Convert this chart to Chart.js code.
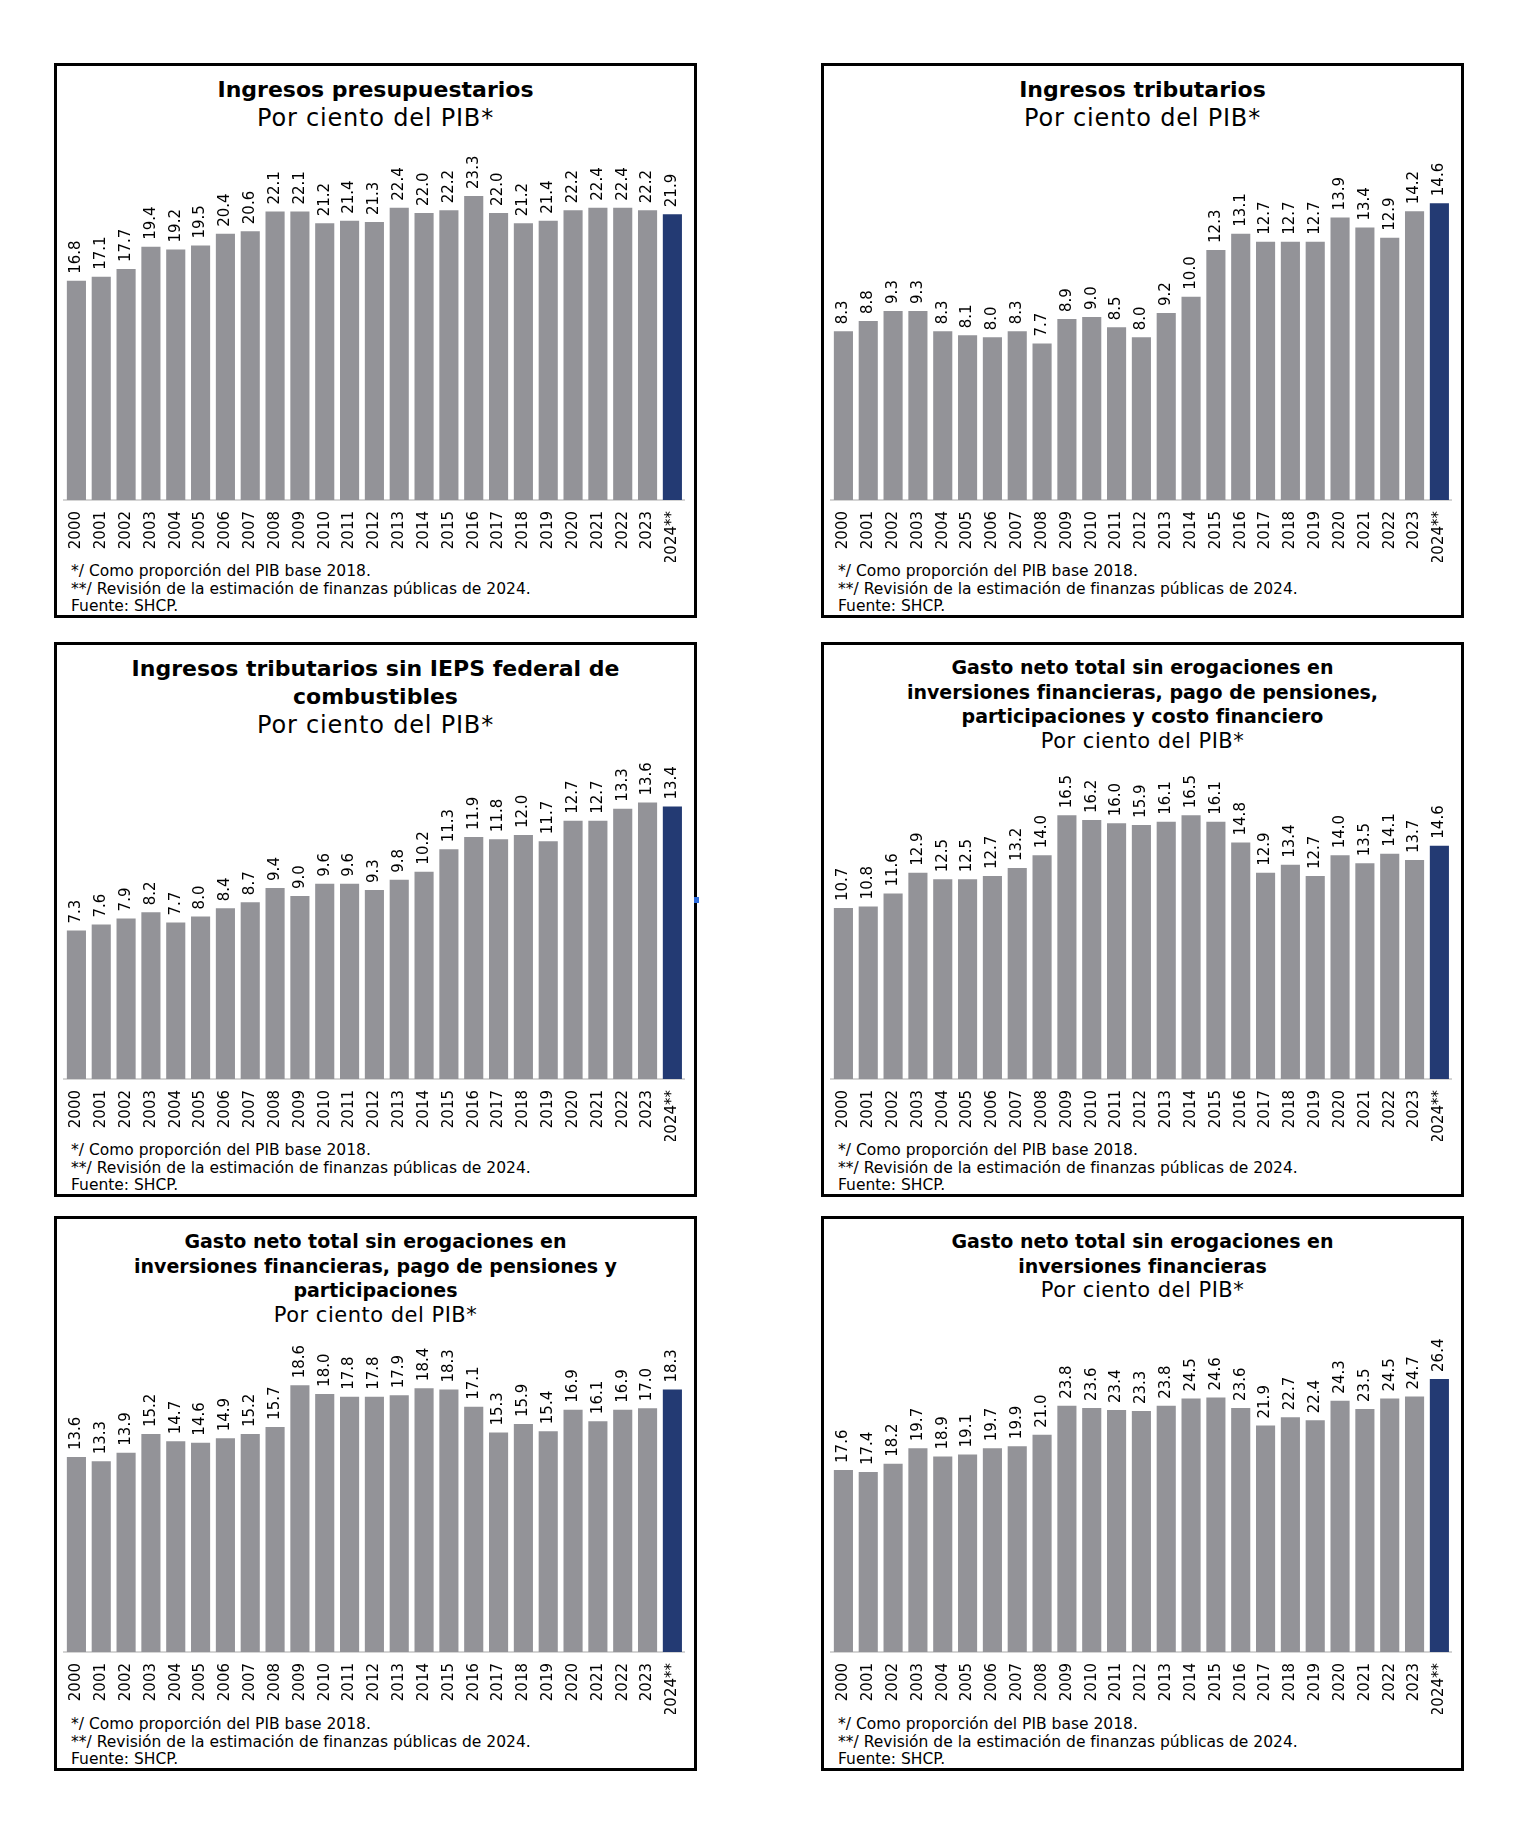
<!DOCTYPE html>
<html lang="es">
<head>
<meta charset="utf-8">
<title>Finanzas públicas - Por ciento del PIB</title>
<script src="https://cdn.jsdelivr.net/npm/chart.js@4.4.1/dist/chart.umd.min.js"></script>
<style>
    body {
        margin: 0;
        background: #ffffff;
        width: 1520px;
        height: 1822px;
        position: relative;
        font-family: "DejaVu Sans", sans-serif;
        color: #000;
    }
    .panel {
        position: absolute;
        width: 643px;
        border: 3px solid #000;
        box-sizing: border-box;
        background: #fff;
    }
    .titulo {
        position: absolute;
        left: 0;
        right: 0;
        top: 10px;
        text-align: center;
        white-space: nowrap;
    }
    .titulo .t { font-weight: bold; }
    .grande { font-size: 22px; line-height: 28px; }
    .grande .s { font-size: 24px; letter-spacing: 0.8px; }
    .chico { font-size: 19px; line-height: 24.7px; }
    .chico .s { font-size: 21px; letter-spacing: 0.5px; }
    .notas {
        position: absolute;
        left: 14px;
        top: 497px;
        font-size: 15.5px;
        line-height: 17.5px;
        white-space: nowrap;
    }
    .panel canvas {
        position: absolute;
        left: 0;
    }
    .marca {
        position: absolute;
        left: 694px;
        top: 897px;
        width: 5px;
        height: 6px;
        background: #2f6fe0;
    }
</style>
</head>
<body>

<script>
// ============================================
// DATOS (por ciento del PIB)
// ============================================

const anios = ['2000', '2001', '2002', '2003', '2004', '2005', '2006', '2007', '2008', '2009',
    '2010', '2011', '2012', '2013', '2014', '2015', '2016', '2017', '2018', '2019',
    '2020', '2021', '2022', '2023', '2024**'];

const ingresosPresupuestarios = [16.8, 17.1, 17.7, 19.4, 19.2, 19.5, 20.4, 20.6, 22.1, 22.1,
    21.2, 21.4, 21.3, 22.4, 22.0, 22.2, 23.3, 22.0, 21.2, 21.4, 22.2, 22.4, 22.4, 22.2, 21.9];

const ingresosTributarios = [8.3, 8.8, 9.3, 9.3, 8.3, 8.1, 8.0, 8.3, 7.7, 8.9,
    9.0, 8.5, 8.0, 9.2, 10.0, 12.3, 13.1, 12.7, 12.7, 12.7, 13.9, 13.4, 12.9, 14.2, 14.6];

const tributariosSinIeps = [7.3, 7.6, 7.9, 8.2, 7.7, 8.0, 8.4, 8.7, 9.4, 9.0,
    9.6, 9.6, 9.3, 9.8, 10.2, 11.3, 11.9, 11.8, 12.0, 11.7, 12.7, 12.7, 13.3, 13.6, 13.4];

const gastoSinCostoFinanciero = [10.7, 10.8, 11.6, 12.9, 12.5, 12.5, 12.7, 13.2, 14.0, 16.5,
    16.2, 16.0, 15.9, 16.1, 16.5, 16.1, 14.8, 12.9, 13.4, 12.7, 14.0, 13.5, 14.1, 13.7, 14.6];

const gastoSinParticipaciones = [13.6, 13.3, 13.9, 15.2, 14.7, 14.6, 14.9, 15.2, 15.7, 18.6,
    18.0, 17.8, 17.8, 17.9, 18.4, 18.3, 17.1, 15.3, 15.9, 15.4, 16.9, 16.1, 16.9, 17.0, 18.3];

const gastoSinInversiones = [17.6, 17.4, 18.2, 19.7, 18.9, 19.1, 19.7, 19.9, 21.0, 23.8,
    23.6, 23.4, 23.3, 23.8, 24.5, 24.6, 23.6, 21.9, 22.7, 22.4, 24.3, 23.5, 24.5, 24.7, 26.4];

const subtitulo = 'Por ciento del PIB*';
const notas = [
    '*/ Como proporción del PIB base 2018.',
    '**/ Revisión de la estimación de finanzas públicas de 2024.',
    'Fuente: SHCP.'
];

// ============================================
// COLORES Y DISPOSICIÓN
// ============================================

const GRIS = '#939398';
const AZUL = '#233a73';

// x, y: esquina del recuadro; base: píxel del eje; ppu: píxeles por punto del PIB
const paneles = [
    { x: 54, y: 63, alto: 555, estilo: 'grande', base: 500, ppu: 13.05,
      titulo: ['Ingresos presupuestarios'], valores: ingresosPresupuestarios },
    { x: 821, y: 63, alto: 555, estilo: 'grande', base: 500, ppu: 20.33,
      titulo: ['Ingresos tributarios'], valores: ingresosTributarios },
    { x: 54, y: 642, alto: 555, estilo: 'grande', base: 1078.5, ppu: 20.3,
      titulo: ['Ingresos tributarios sin IEPS federal de', 'combustibles'], valores: tributariosSinIeps },
    { x: 821, y: 642, alto: 555, estilo: 'chico', base: 1078.5, ppu: 15.96,
      titulo: ['Gasto neto total sin erogaciones en', 'inversiones financieras, pago de pensiones,', 'participaciones y costo financiero'],
      valores: gastoSinCostoFinanciero },
    { x: 54, y: 1216, alto: 555, estilo: 'chico', base: 1651.5, ppu: 14.32,
      titulo: ['Gasto neto total sin erogaciones en', 'inversiones financieras, pago de pensiones y', 'participaciones'],
      valores: gastoSinParticipaciones },
    { x: 821, y: 1216, alto: 555, estilo: 'chico', base: 1651.5, ppu: 10.33,
      titulo: ['Gasto neto total sin erogaciones en', 'inversiones financieras'], valores: gastoSinInversiones }
];

/**
 * Etiquetas verticales con el valor encima de cada barra
 */
const etiquetasValores = {
    id: 'etiquetasValores',
    afterDatasetsDraw(chart) {
        const ctx = chart.ctx;
        const valores = chart.data.datasets[0].data;
        ctx.save();
        ctx.font = '15px "DejaVu Sans"';
        ctx.fillStyle = '#000';
        ctx.textAlign = 'left';
        ctx.textBaseline = 'middle';
        chart.getDatasetMeta(0).data.forEach((barra, i) => {
            ctx.save();
            ctx.translate(barra.x, barra.y - 7);
            ctx.rotate(-Math.PI / 2);
            ctx.fillText(valores[i].toFixed(1), 0, 0);
            ctx.restore();
        });
        ctx.restore();
    }
};

/**
 * Crear un recuadro con su título, gráfico y notas
 */
function crearPanel(p) {
    const div = document.createElement('div');
    div.className = 'panel';
    div.style.left = p.x + 'px';
    div.style.top = p.y + 'px';
    div.style.height = p.alto + 'px';

    const titulo = document.createElement('div');
    titulo.className = 'titulo ' + p.estilo;
    titulo.innerHTML = p.titulo.map(l => `<div class="t">${l}</div>`).join('') +
        `<div class="s">${subtitulo}</div>`;
    div.appendChild(titulo);

    // Lienzo: desde 60 px bajo el borde superior hasta el final de los años
    const arriba = p.y + 60;
    const alto = Math.round(p.base + 62 - arriba);
    const ancho = 637;
    const canvas = document.createElement('canvas');
    canvas.width = ancho;
    canvas.height = alto;
    canvas.style.top = (arriba - p.y - 3) + 'px';
    canvas.style.width = ancho + 'px';
    canvas.style.height = alto + 'px';
    div.appendChild(canvas);

    const nota = document.createElement('div');
    nota.className = 'notas';
    nota.innerHTML = notas.map(n => `<div>${n}</div>`).join('');
    div.appendChild(nota);

    document.body.appendChild(div);

    const yMax = (p.base - arriba) / p.ppu;

    new Chart(canvas.getContext('2d'), {
        type: 'bar',
        data: {
            labels: anios,
            datasets: [{
                data: p.valores,
                backgroundColor: p.valores.map((v, i) => i === p.valores.length - 1 ? AZUL : GRIS),
                borderWidth: 0,
                barPercentage: 0.77,
                categoryPercentage: 1
            }]
        },
        options: {
            responsive: false,
            animation: false,
            devicePixelRatio: 1,
            layout: {
                padding: { left: 7, right: 9.2, top: 0, bottom: 0 }
            },
            plugins: {
                legend: { display: false },
                tooltip: { enabled: false }
            },
            scales: {
                x: {
                    grid: { display: false, drawTicks: false },
                    border: { display: true, color: '#d4d4d4', width: 2 },
                    ticks: {
                        color: '#000',
                        font: { family: 'DejaVu Sans', size: 15 },
                        minRotation: 90,
                        maxRotation: 90,
                        autoSkip: false,
                        padding: 11
                    },
                    afterFit: function(scale) {
                        // altura fija del eje y sin margen extra por las etiquetas giradas
                        scale.height = 62;
                        scale.paddingLeft = 0;
                        scale.paddingRight = 0;
                    }
                },
                y: {
                    display: false,
                    min: 0,
                    max: yMax
                }
            }
        },
        plugins: [etiquetasValores]
    });
}

paneles.forEach(crearPanel);

// pequeño marcador azul sobre el borde del tercer recuadro
const marca = document.createElement('div');
marca.className = 'marca';
document.body.appendChild(marca);
</script>
</body>
</html>
